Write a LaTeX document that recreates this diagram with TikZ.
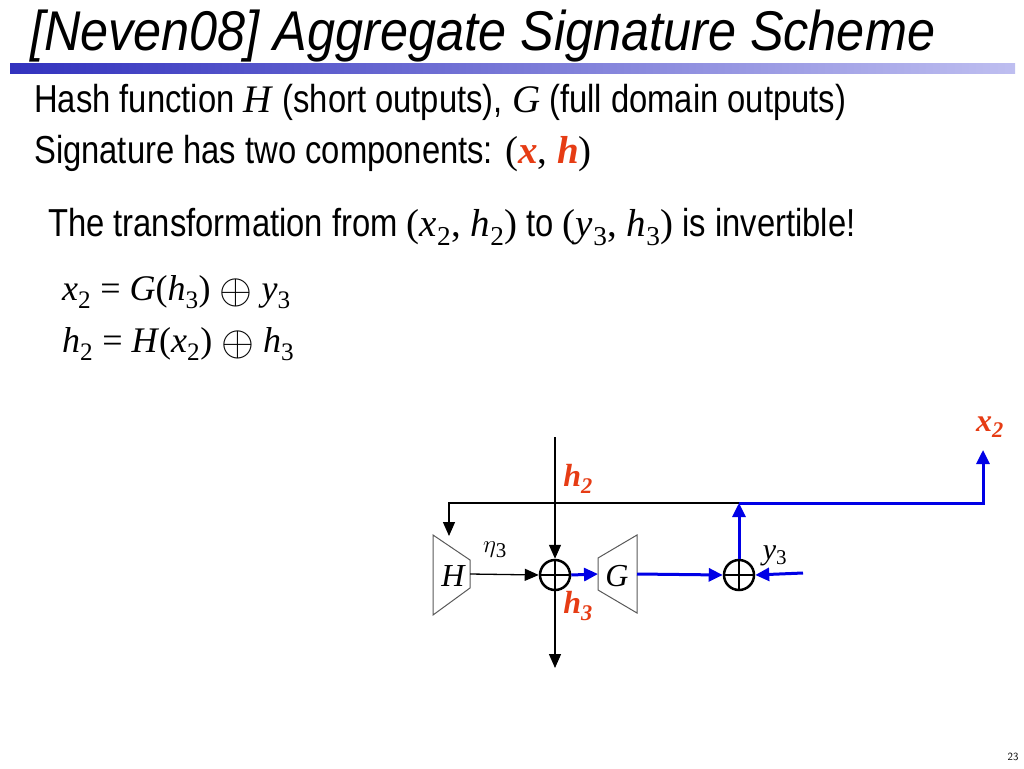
\documentclass[tikz,border=0pt]{standalone}
\usepackage{fontspec}
\setmainfont{Liberation Serif}
\newfontfamily\narrow[FakeStretch=0.84]{Liberation Sans}
\newfontfamily\titlef[FakeStretch=0.9]{Liberation Sans}
\usetikzlibrary{arrows.meta}
\definecolor{rd}{RGB}{230,60,20}
\definecolor{bl}{RGB}{0,0,230}
\newcommand{\ii}[1]{\textit{#1}}
\newcommand{\sub}[1]{\textsubscript{#1}}
\newcommand{\bop}{\raisebox{-3pt}{\scalebox{1.7}{$\oplus$}}}
\tikzset{
 blk/.style={black,line width=1.3pt,-{Triangle[length=14pt,width=12pt]}},
 blu/.style={bl,line width=3pt,-{Triangle[length=14pt,width=13pt]}},
 lab/.style={font=\fontsize{32}{32}\selectfont\bfseries\itshape,text=rd},
 xor/.style={circle,draw,line width=2.5pt,minimum size=30pt,inner sep=0pt,path picture={\draw[line width=2.5pt] (path picture bounding box.north)--(path picture bounding box.south) (path picture bounding box.west)--(path picture bounding box.east);}},
}
\begin{document}
\begin{tikzpicture}[x=1pt,y=-1pt]
\useasboundingbox (0,0) rectangle (1024,768);
\node[anchor=base west,inner sep=0pt,font=\titlef\itshape\fontsize{56}{56}\selectfont] (title) at (30,50) {[Neven08] Aggregate Signature Scheme};
\shade[left color={rgb,255:red,50;green,50;blue,190},right color={rgb,255:red,190;green,190;blue,240}] (10,63) rectangle (1015,73);
\node[anchor=base west,inner sep=0pt,font=\narrow\fontsize{39}{39}\selectfont] (l1) at (34,112) {Hash function {\rmfamily\ii{H}} (short outputs), {\rmfamily\ii{G}} (full domain outputs)};
\node[anchor=base west,inner sep=0pt,font=\narrow\fontsize{39}{39}\selectfont] (l2) at (34,163) {Signature has two components: {\rmfamily(\textcolor{rd}{\bfseries\ii{x}}, \textcolor{rd}{\bfseries\ii{h}})}};
\node[anchor=base west,inner sep=0pt,font=\narrow\fontsize{39}{39}\selectfont] (l3) at (48,236) {The transformation from {\rmfamily(\ii{x}\sub{2}, \ii{h}\sub{2})} to {\rmfamily(\ii{y}\sub{3}, \ii{h}\sub{3})} is invertible!};
\node[anchor=base west,inner sep=0pt,font=\fontsize{36}{36}\selectfont] (e1) at (62,300) {\ii{x}\sub{2} = \ii{G}(\ii{h}\sub{3}) \bop{} \ii{y}\sub{3}};
\node[anchor=base west,inner sep=0pt,font=\fontsize{36}{36}\selectfont] (e2) at (62,352) {\ii{h}\sub{2} = \ii{H}(\ii{x}\sub{2}) \bop{} \ii{h}\sub{3}};
% H and G
\draw[gray!70!black,line width=1pt] (433,535)--(470,560)--(470,588)--(433,615)--cycle;
\node[font=\fontsize{32}{32}\selectfont\itshape] (H) at (453,576) {H};
\draw[gray!70!black,line width=1pt] (598,558)--(637,535)--(637,613)--(598,590)--cycle;
\node[font=\fontsize{32}{32}\selectfont\itshape] (G) at (617,576) {G};
\coordinate (Hr) at (470,574); \coordinate (Gl) at (598,574); \coordinate (Gr) at (637,574);
\node[xor] (o1) at (555,575) {};
\node[xor] (o2) at (739,575) {};
\coordinate (top) at (555,437); \coordinate (bot) at (555,668);
\coordinate (c1) at (449,503); \coordinate (c2) at (739,503); \coordinate (c3) at (983,503); \coordinate (x2e) at (983,450);
\coordinate (Ht) at (449,536); \coordinate (yin) at (803,573);
\draw[blk] (top)--(o1.north);
\draw[blk] (o1.south)--(bot);
\draw[blk] (Hr)--(o1.west);
\draw[blk] (c2)--(c1)--(Ht);
\draw[blu] (o1.east)--(Gl);
\draw[blu] (Gr)--(o2.west);
\draw[blu] (yin)--(o2.east);
\draw[blu] (o2.north)--(c2);
\draw[blu] (c2)--(c3)--(x2e);
\node[lab] (lh2) at (578,479) {h\sub{2}};
\node[lab] (lh3) at (578,606) {h\sub{3}};
\node[lab] (lx2) at (990,427) {x\sub{2}};
\node[font=\fontsize{30}{30}\selectfont] (eta) at (495,550) {$\eta$\sub{3}};
\node[font=\fontsize{30}{30}\selectfont] (ly3) at (775,556) {\ii{y}\sub{3}};
\node[font=\sffamily\fontsize{11}{11}\selectfont] (pg) at (1013,757) {23};
\end{tikzpicture}
\end{document}
